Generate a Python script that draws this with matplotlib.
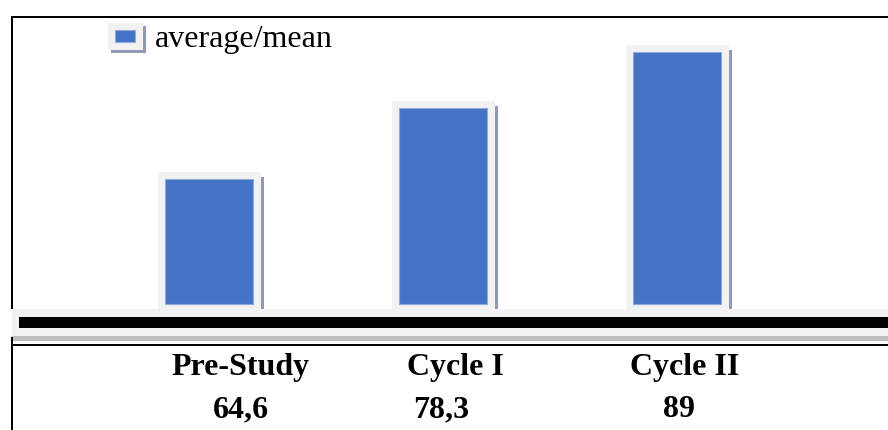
import matplotlib
matplotlib.use("Agg")
import matplotlib.pyplot as plt
import matplotlib.patches as patches

# data
categories = ["Pre-Study", "Cycle I", "Cycle II"]
means = [64.6, 78.3, 89]
legend_label = "average/mean"

BLUE = "#4472C4"
BLUE_EDGE = "#8EAADB"
FRAME = "#F2F2F2"
SHADE = "#8F9BB3"
W, H = 888, 430
FS = 23


def value_text(v):
    return f"{v:g}".replace(".", ",")


fig = plt.figure(figsize=(W / 100, H / 100), dpi=100)
plt.rcParams["font.family"] = ["Liberation Serif", "DejaVu Serif"]

# pixel-space overlay for borders, band, legend and the text rows
bg = fig.add_axes([0, 0, 1, 1])
bg.set_xlim(0, W)
bg.set_ylim(H, 0)
bg.set_axis_off()


def rect(x0, y0, x1, y1, color, z=1):
    bg.add_patch(patches.Rectangle((x0, y0), x1 - x0, y1 - y0, facecolor=color,
                                   edgecolor="none", zorder=z))


# bar axes: bottom at band top (px 309), top at the border (px 16)
px_per_unit = 5.22
base = 40.7
y_bottom = base - 5 / px_per_unit
y_top = base + (304 - 16) / px_per_unit
xpx = 234.0
x0_px = 209.3
ax = fig.add_axes([13 / W, (H - 309) / H, (W - 13) / W, (309 - 16) / H])
ax.set_xlim((13 - x0_px) / xpx, (W - x0_px) / xpx)
ax.set_ylim(y_bottom, y_top)
ax.set_axis_off()
ax.patch.set_alpha(0)

xs = list(range(len(categories)))
frame_h = [m + 7 / px_per_unit - y_bottom for m in means]
edge_h = [m + 2 / px_per_unit - y_bottom for m in means]
ax.bar(xs, frame_h, width=103 / xpx, bottom=y_bottom, color=FRAME, zorder=1)
ax.bar([x + 53 / xpx for x in xs], edge_h, width=3 / xpx, bottom=y_bottom,
       color=SHADE, zorder=2)
ax.bar(xs, [m - base for m in means], width=88 / xpx, bottom=base, color=BLUE,
       edgecolor=BLUE_EDGE, linewidth=0.8, zorder=3)

# borders
rect(11, 16, W, 18, "black", 4)
rect(11, 16, 13, 309, "black", 4)
rect(11, 337, 13, H, "black", 4)

# double rule band
rect(12, 309, W, 342, FRAME, 2)
rect(19, 317, W, 328, "black", 3)
rect(12, 336, W, 341, "#BFBFBF", 3)
rect(11, 344, W, 346, "black", 3)

# legend
rect(111, 26, 146, 53, SHADE, 2)
rect(108, 23, 143, 50, FRAME, 3)
bg.add_patch(patches.Rectangle((115, 30), 20, 12, facecolor=BLUE,
                               edgecolor=BLUE_EDGE, linewidth=0.8, zorder=4))
bg.text(155, 47, legend_label, fontsize=FS, va="baseline", ha="left", zorder=5)

# table rows under the chart
label_x = [240, 455, 685]
value_x = [241, 441, 679]
for name, v, lx, vx in zip(categories, means, label_x, value_x):
    bg.text(lx, 375, name, fontsize=FS, fontweight="bold", ha="center",
            va="baseline", zorder=5)
    bg.text(vx, 417, value_text(v), fontsize=FS, fontweight="bold",
            ha="center", va="baseline", zorder=5)

fig.savefig("out.png", dpi=100)
